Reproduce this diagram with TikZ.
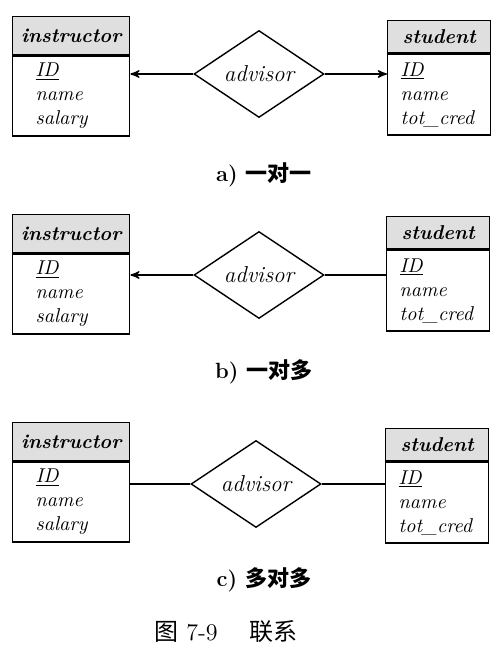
\documentclass[tikz,border=0pt]{standalone}
\usepackage{fontspec}
\newfontfamily\cjk{Noto Sans CJK SC}
\usepackage{tikz}
\usetikzlibrary{arrows,positioning,shapes.geometric}

\begin{document}
\begin{tikzpicture}[x=0.5pt,y=-0.5pt,-,>=stealth',line width=0.7pt,
  ihead/.style={draw,fill=gray!25,anchor=north west,minimum width=58.5pt,minimum height=19pt,inner sep=0pt,font=\bfseries\itshape},
  shead/.style={draw,fill=gray!25,anchor=north west,minimum width=51.5pt,minimum height=16pt,inner sep=0pt,font=\bfseries\itshape},
  ibody/.style={draw,fill=white,text width=35.5pt,inner xsep=11.5pt,inner ysep=0pt,minimum height=40pt,align=left,font=\fontsize{10}{12}\selectfont\itshape},
  sbody/.style={draw,fill=white,text width=38.5pt,inner xsep=6.5pt,inner ysep=0pt,minimum height=40.5pt,align=left,font=\fontsize{10}{12}\selectfont\itshape},
  rel node/.style={diamond,draw,aspect=1.5,inner sep=0pt,minimum width=65pt,minimum height=43.5pt,font=\fontsize{11.5}{13}\selectfont\itshape},
  cap node/.style={font=\fontsize{11}{13}\selectfont\bfseries}]
  \useasboundingbox (0,0) rectangle (496,658);

  % a) one to one
  \node[ihead] (ih1) at (12,16) {instructor};
  \node[ibody] (ib1) [below=0pt of ih1] {\underline{ID}\\ name\\ salary};
  \node[shead] (sh1) at (387,20) {student};
  \node[sbody] (sb1) [below=0pt of sh1] {\underline{ID}\\ name\\ tot\_cred};
  \node[rel node] (r1) at (259,74) {advisor};
  \node[cap node] (c1) at (264,175) {a) {\cjk 一对一}};

  % b) one to many
  \node[ihead] (ih2) at (12,214) {instructor};
  \node[ibody] (ib2) [below=0pt of ih2] {\underline{ID}\\ name\\ salary};
  \node[shead] (sh2) at (386,216) {student};
  \node[sbody] (sb2) [below=0pt of sh2] {\underline{ID}\\ name\\ tot\_cred};
  \node[rel node] (r2) at (259,275) {advisor};
  \node[cap node] (c2) at (264,372) {b) {\cjk 一对多}};

  % c) many to many
  \node[ihead] (ih3) at (12,422) {instructor};
  \node[ibody] (ib3) [below=0pt of ih3] {\underline{ID}\\ name\\ salary};
  \node[shead] (sh3) at (385,428) {student};
  \node[sbody] (sb3) [below=0pt of sh3] {\underline{ID}\\ name\\ tot\_cred};
  \node[rel node] (r3) at (256,484) {advisor};
  \node[cap node] (c3) at (264,580) {c) {\cjk 多对多}};

  \node[font=\fontsize{12}{14}\selectfont] (title) at (226,632) {{\cjk 图} 7-9\quad\ {\cjk 联系}};

  \path
    (r1.west) edge[->] (r1.west -| ib1.east)
    (r1.east) edge[->] (r1.east -| sb1.west)
    (r2.west) edge[->] (r2.west -| ib2.east)
    (r2.east) edge (r2.east -| sb2.west)
    (r3.west) edge (r3.west -| ib3.east)
    (r3.east) edge (r3.east -| sb3.west);
\end{tikzpicture}
\end{document}
